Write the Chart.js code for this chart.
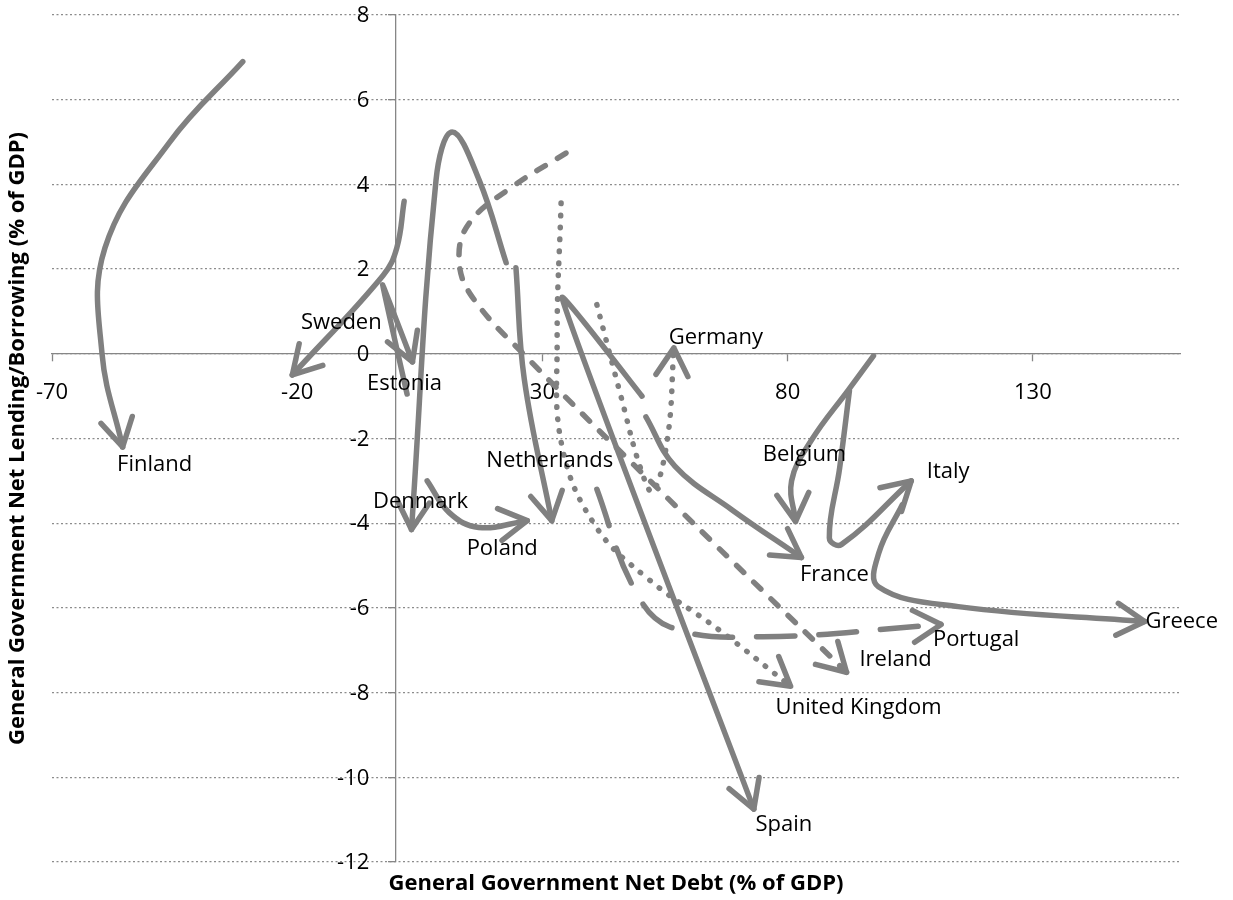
<!DOCTYPE html>
<html>
<head>
<meta charset="utf-8">
<title>Net lending and net debt</title>
<script src="https://cdn.jsdelivr.net/npm/chart.js@4.4.1/dist/chart.umd.min.js"></script>
<style>
	html, body { margin: 0; padding: 0; background: #fff; }
	#box { width: 1233px; height: 900px; }
</style>
</head>
<body>
<div id="box"><canvas id="chart"></canvas></div>
<script>
const xTitle = "General Government Net Debt (% of GDP)";
const yTitle = "General Government Net Lending/Borrowing (% of GDP)";

const debtTicks = [ -70, -20, 30, 80, 130 ];
const balanceTicks = [ 8, 6, 4, 2, 0, -2, -4, -6, -8, -10, -12 ];

// [net debt, net lending/borrowing] pairs, in time order (last one gets the arrow)
const finland = [ [-31.1, 6.9], [-46.0, 5.0], [-59.2, 2.5], [-59.8, 0.0], [-55.6, -2.2] ];
const sweden = [ [1.8, 3.6], [0.3, 2.5], [-2.5, 1.85], [-21.0, -0.5] ];
const estonia = [ [2.4, -0.95], [-2.6, 1.63], [3.5, -0.19] ];
const denmark = [ [22.6, 2.15], [17.1, 4.1], [11.6, 5.24], [8.3, 4.1], [3.3, -4.15] ];
const poland = [ [6.5, -3.0], [11.0, -3.75], [17.0, -4.1], [26.9, -3.94] ];
const netherlands = [ [24.6, 2.03], [26.3, -0.6], [31.9, -3.94] ];
const germany = [ [41.1, 1.16], [46.0, -1.0], [50.0, -2.7], [52.5, -3.25], [55.5, -2.0], [56.8, 0.14] ];
const unitedKingdom = [ [33.8, 3.56], [33.0, 0.3], [34.0, -2.19], [40.9, -4.08], [51.7, -5.33], [65.9, -6.51], [80.6, -7.85] ];
const ireland = [ [34.8, 4.74], [23.8, 3.94], [15.1, 3.09], [13.0, 2.22], [15.7, 1.34], [27.3, -0.14], [52.3, -3.04], [92.0, -7.52] ];
const portugal = [ [41.1, -3.2], [48.5, -5.5], [56.0, -6.45], [75.0, -6.68], [111.3, -6.39] ];
const spain = [ [50.3, -1.0], [34.0, 1.32], [73.1, -10.75] ];
const france = [ [51.1, -1.49], [57.0, -2.65], [68.6, -3.68], [82.8, -4.81] ];
const belgium = [ [97.5, -0.05], [92.4, -0.85], [84.9, -2.03], [80.8, -3.0], [81.6, -3.96] ];
const italy = [ [92.6, -0.87], [90.6, -2.7], [88.5, -4.35], [91.0, -4.5], [105.2, -3.0] ];
const greece = [ [103.4, -3.56], [98.6, -4.7], [98.5, -5.5], [114.8, -5.97], [152.8, -6.32] ];

const countries = {
	"Finland": finland,
	"Sweden": sweden,
	"Estonia": estonia,
	"Denmark": denmark,
	"Poland": poland,
	"Netherlands": netherlands,
	"Germany": germany,
	"United Kingdom": unitedKingdom,
	"Ireland": ireland,
	"Portugal": portugal,
	"Spain": spain,
	"France": france,
	"Belgium": belgium,
	"Italy": italy,
	"Greece": greece,
};

const lineColor = "#808080";
const dashPatterns = { solid: [], dot: [0.5, 11.5], dash: [10, 14], longDash: [38, 24] };
const lineStyles = { "Germany": "dot", "United Kingdom": "dot", "Ireland": "dash", "Portugal": "longDash" };
const smoothing = { "Estonia": 0.05, "Spain": 0.12 };

// label centre relative to the arrow tip, px
const labelOffsets = {
	"Finland": [32, 18],
	"Sweden": [49, -52],
	"Estonia": [-8, 22],
	"Denmark": [9, -28],
	"Poland": [-25, 28],
	"Netherlands": [-2, -60],
	"Germany": [42, -10],
	"United Kingdom": [68, 21],
	"Ireland": [49, -13],
	"Portugal": [35, 15],
	"Spain": [30, 16],
	"France": [33, 17],
	"Belgium": [9, -67],
	"Italy": [37, -9],
	"Greece": [37, 0],
};

Chart.defaults.font.family = "'Open Sans', sans-serif";
Chart.defaults.font.size = 22;
Chart.defaults.color = "#000";

function lastTwo(chart, i)
{
	const pts = chart.getDatasetMeta(i).data;
	const tip = pts[pts.length - 1];
	let fromX = tip.cp1x, fromY = tip.cp1y;
	if (fromX === undefined || (Math.abs(fromX - tip.x) < 0.01 && Math.abs(fromY - tip.y) < 0.01))
	{
		fromX = pts[pts.length - 2].x;
		fromY = pts[pts.length - 2].y;
	}
	return { tip, fromX, fromY };
}

const arrowHeads = {
	id: "arrowHeads",
	afterDatasetsDraw(chart, args, options)
	{
		const ctx = chart.ctx;
		ctx.save();
		ctx.strokeStyle = options.color;
		ctx.lineWidth = options.width;
		ctx.lineCap = "round";
		ctx.lineJoin = "round";
		ctx.setLineDash([]);
		chart.data.datasets.forEach((ds, i) =>
		{
			const { tip, fromX, fromY } = lastTwo(chart, i);
			const angle = Math.atan2(tip.y - fromY, tip.x - fromX);
			ctx.beginPath();
			for (const side of [-1, 1])
			{
				const a = angle + Math.PI + side * options.spread;
				ctx.moveTo(tip.x, tip.y);
				ctx.lineTo(tip.x + options.length * Math.cos(a), tip.y + options.length * Math.sin(a));
			}
			ctx.stroke();
		});
		ctx.restore();
	}
};

const seriesLabels = {
	id: "seriesLabels",
	afterDatasetsDraw(chart)
	{
		const ctx = chart.ctx;
		ctx.save();
		ctx.font = "22px 'Open Sans'";
		ctx.fillStyle = "#000";
		ctx.textAlign = "center";
		ctx.textBaseline = "middle";
		chart.data.datasets.forEach((ds, i) =>
		{
			const { tip } = lastTwo(chart, i);
			const [dx, dy] = labelOffsets[ds.label];
			ctx.fillText(ds.label, tip.x + dx, tip.y + dy);
		});
		ctx.restore();
	}
};

// y labels sit left of the crossing axis (Chart.js puts them right on it for value-positioned axes)
const balanceLabels = {
	id: "balanceLabels",
	afterDraw(chart, args, options)
	{
		const { ctx, scales: { x, y } } = chart;
		const axisX = x.getPixelForValue(0);
		ctx.save();
		ctx.font = "22px 'Open Sans'";
		ctx.fillStyle = "#000";
		ctx.textAlign = "right";
		ctx.textBaseline = "middle";
		for (const t of y.ticks)
			ctx.fillText(String(t.value), axisX - options.gap, y.getPixelForValue(t.value) + 1);
		ctx.restore();
	}
};

// axes cross at 0/0, so the titles go along the chart edges by hand
const axisTitles = {
	id: "axisTitles",
	afterDraw(chart)
	{
		const { ctx, chartArea: { left, right, top, bottom } } = chart;
		ctx.save();
		ctx.font = "bold 22px 'Open Sans'";
		ctx.fillStyle = "#000";
		ctx.textAlign = "center";
		ctx.textBaseline = "middle";
		ctx.fillText(xTitle, (left + right) / 2, bottom + 22);
		ctx.translate(18, (top + bottom) / 2);
		ctx.rotate(-Math.PI / 2);
		ctx.fillText(yTitle, 0, 0);
		ctx.restore();
	}
};

const datasets = Object.entries(countries).map(([name, path]) => ({
	label: name,
	data: path.map(([x, y]) => ({ x, y })),
	showLine: true,
	borderColor: lineColor,
	borderWidth: 5.5,
	borderDash: dashPatterns[lineStyles[name] || "solid"],
	borderCapStyle: "round",
	borderJoinStyle: "round",
	tension: smoothing[name] ?? 0.4,
	pointRadius: 0,
	pointHoverRadius: 0,
	fill: false,
}));

new Chart(document.getElementById("chart"), {
	type: "scatter",
	data: { datasets },
	options: {
		responsive: true,
		maintainAspectRatio: false,
		animation: false,
		events: [],
		layout: { padding: { left: 52, top: 15, right: 53, bottom: 38 } },
		plugins: {
			legend: { display: false },
			tooltip: { enabled: false },
			arrowHeads: { color: lineColor, width: 5.5, length: 32, spread: Math.PI / 6 },
			balanceLabels: { gap: 26 },
		},
		scales: {
			x: {
				type: "linear",
				position: { y: 0 },
				min: -70,
				max: 160,
				afterBuildTicks: axis => { axis.ticks = debtTicks.map(v => ({ value: v })); },
				grid: { drawOnChartArea: false, tickLength: 7, tickColor: "#868686", tickWidth: 1.3 },
				border: { color: "#868686", width: 1.3 },
				ticks: { padding: 19, autoSkip: false, maxRotation: 0, callback: v => String(v) },
			},
			y: {
				type: "linear",
				position: { x: 0 },
				min: -12,
				max: 8,
				afterBuildTicks: axis => { axis.ticks = balanceTicks.map(v => ({ value: v })); },
				grid: { color: "#8c8c8c", lineWidth: 1.3, tickLength: 7, tickColor: "#868686", tickWidth: 1.3, tickBorderDash: [] },
				border: { color: "#868686", width: 1.3, dash: [2, 2.5] },
				ticks: { display: false, padding: 0 },
			},
		},
	},
	plugins: [ arrowHeads, seriesLabels, balanceLabels, axisTitles ],
});
</script>
</body>
</html>
